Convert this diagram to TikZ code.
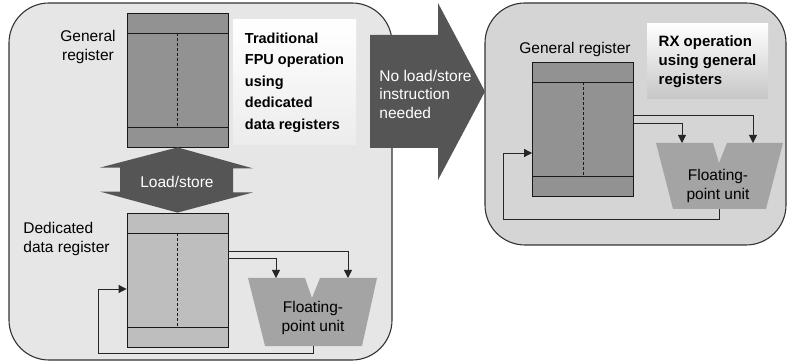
\documentclass[tikz,border=0pt]{standalone}
\usepackage{fontspec}
\setmainfont{Liberation Sans}
\usetikzlibrary{arrows.meta, calc}
\definecolor{panelL}{HTML}{E6E6E6}
\definecolor{panelR}{HTML}{D5D5D5}
\definecolor{regdark}{HTML}{929292}
\definecolor{regpale}{HTML}{BEBEBE}
\definecolor{fpucol}{HTML}{A4A4A4}
\definecolor{bigcol}{HTML}{555555}
\definecolor{boxL}{HTML}{ECECEC}
\definecolor{boxR}{HTML}{C6C6C6}
\tikzset{
    panel/.style={draw=black!80, line width=1.1pt, rounded corners=40pt},
    reg/.style={draw=black!90, line width=0.8pt, minimum width=101pt, minimum height=134pt, inner sep=0pt,
        path picture={
            \draw[line width=0.8pt] ([yshift=-20pt]path picture bounding box.north west) -- ([yshift=-20pt]path picture bounding box.north east);
            \draw[line width=0.8pt] ([yshift=20pt]path picture bounding box.south west) -- ([yshift=20pt]path picture bounding box.south east);
            \draw[line width=0.7pt, dash pattern=on 3pt off 2pt] ([yshift=-20pt]path picture bounding box.north) -- ([yshift=20pt]path picture bounding box.south);
        }},
    fpu/.style={fill=fpucol},
    fat/.style={fill=bigcol},
    note/.style={align=left, inner sep=0pt, top color=white},
    lbl/.style={font=\fontsize{15.5}{18.5}\selectfont, inner sep=0pt},
    bd/.style={>={Triangle[width=8pt,length=8pt]}, line width=0.8pt}
}
\begin{document}
\begin{tikzpicture}[bd, x=1pt, y=-1pt]
    \useasboundingbox (0,0) rectangle (787,363);
    % panels
    \draw[panel, fill=panelL] (9,3) rectangle (392,360);
    \draw[panel, fill=panelR] (485,3) rectangle (786,245);

    % arrow between the panels
    \fill[fat] (370,35) -- (438,35) -- (438,3) -- (485,91.5) -- (438,180) -- (438,148) -- (370,148) -- cycle;
    \node[lbl, text=white, align=left, anchor=west] (nols) at (379,94) {No load/store\\instruction\\needed};

    % traditional FPU
    \node[reg, fill=regdark] (gr1) at (177.5,80) {};
    \node[lbl, align=center] (gr1l) at (88,47) {General\\register};
    \node[note, bottom color=boxL, minimum width=123pt, minimum height=125pt,
          font=\bfseries\fontsize{14.5}{21.5}\selectfont] (t1) at (294.5,82.5)
          {Traditional\\FPU operation\\using\\dedicated\\data registers};
    \node[reg, fill=regpale] (dr) at (177.5,280) {};
    \node[lbl, align=left, anchor=west] (drl) at (23,239) {Dedicated\\data register};
    \fill[fat] (gr1.south) -- ++(75.5,21) -- ++(-20,0) -- ++(0,24) -- ++(20,0) -- (dr.north)
        -- ++(-77.5,-21) -- ++(20,0) -- ++(0,-24) -- ++(-20,0) -- cycle;
    \node[lbl, text=white] (ls) at (177,182) {Load/store};

    \fill[fpu] (248,278) -- (305,278) -- (312,298) -- (320,278) -- (377,278) -- (362,346) -- (265,346) -- cycle;
    \node[lbl, align=center] (f1) at (313,318) {Floating-\\point unit};
    \coordinate (f1a) at (276,278);
    \coordinate (f1b) at (348,278);
    \coordinate (f1o) at (313,346);
    \draw[->, black!85] ([yshift=29pt]dr.east) -| (f1b);
    \draw[->, black!85] ([yshift=22pt]dr.east) -| (f1a);
    \draw[->, black!85] (f1o) -- ++(0,7) -| ([xshift=-28pt,yshift=-9pt]dr.west) -- ([yshift=-9pt]dr.west);

    % RX
    \node[lbl] (gr2l) at (575,49) {General register};
    \node[reg, fill=regdark] (gr2) at (583,129) {};
    \node[note, bottom color=boxR, minimum width=121pt, minimum height=75pt,
          font=\bfseries\fontsize{15}{19}\selectfont] (t2) at (707.5,61.5)
          {RX operation\\using general\\registers};
    \fill[fpu] (656,143) -- (713,143) -- (719,163) -- (727,143) -- (783,143) -- (766,209) -- (673,209) -- cycle;
    \node[lbl, align=center] (f2) at (718,186) {Floating-\\point unit};
    \coordinate (f2a) at (682,143);
    \coordinate (f2b) at (753,143);
    \coordinate (f2o) at (719,209);
    \draw[->, black!85] ([yshift=14pt]gr2.east) -| (f2b);
    \draw[->, black!85] ([yshift=6pt]gr2.east) -| (f2a);
    \draw[->, black!85] (f2o) -- ++(0,10) -| ([xshift=-29pt,yshift=-24pt]gr2.west) -- ([yshift=-24pt]gr2.west);
\end{tikzpicture}
\end{document}
